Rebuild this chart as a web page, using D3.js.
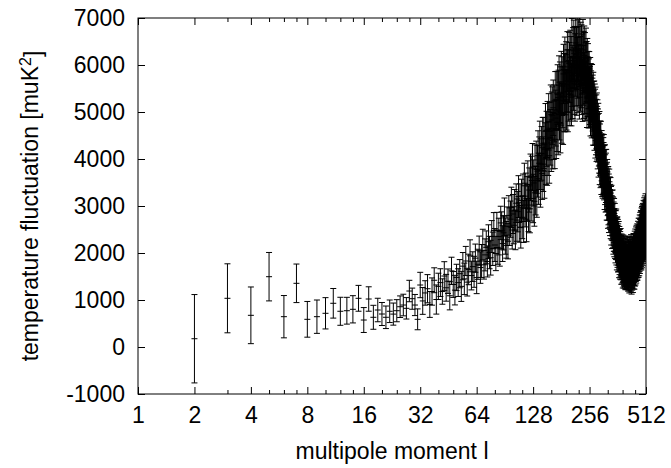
<!DOCTYPE html>
<html>
<head>
<meta charset="utf-8">
<script src="https://cdn.jsdelivr.net/npm/d3@7"></script>
<style>
  body { margin: 0; background: #fff; }
  svg text { font-family: "Liberation Sans", Arial, sans-serif; fill: #000; }
</style>
</head>
<body>
<script>
    //multipole moments start at l = 2, one point per l
    var firstL = 2;

    //l = 2 .. 31
    var powerLow = [176, 1036, 674, 1496, 645, 1355, 589, 645, 717, 930,
                    760, 772, 802, 1036, 574, 1021, 632, 787, 702, 632,
                    760, 700, 772, 857, 893, 823, 1191, 1028, 893, 589];
    var sigmaLow = [940, 734, 603, 515, 450, 410, 380, 355, 333, 315,
                    298, 285, 290, 275, 265, 260, 255, 250, 245, 240,
                    240, 235, 235, 230, 230, 228, 228, 225, 225, 222];

    //l = 32 .. 512
    var powerHigh = [
        1319, 980, 1150, 1240, 905, 1180, 1420, 1010, 1290, 1370,
        1180, 1510, 1260, 1400, 1090, 1620, 1330, 1210, 1480, 1370,
        1560, 1290, 1720, 1450, 1830, 1380, 1650, 1940, 1520, 1710,
        1600, 1890, 1480, 1760, 2050, 1690, 1830, 2180, 1750, 1960,
        2120, 1820, 2240, 2010, 1900, 2350, 2090, 2480, 2170, 1990,
        2490, 2120, 2350, 2090, 2640, 2480, 2200, 2430, 2770, 2360,
        2280, 2570, 2250, 2800, 2560, 2720, 2970, 2490, 2830, 2590,
        2910, 2490, 3060, 2700, 2880, 3200, 2650, 3010, 2540, 3120,
        2760, 3210, 2670, 3430, 3020, 3210, 2700, 3150, 3460, 2940,
        3340, 2940, 3610, 3160, 3540, 3830, 3160, 3490, 3100, 3790,
        3330, 3840, 3270, 3740, 4070, 3580, 3910, 4280, 3530, 3890,
        4120, 3690, 4320, 3890, 4340, 3740, 4210, 4590, 4030, 4430,
        4020, 4630, 4220, 4790, 4070, 4590, 4460, 5000, 4340, 4830,
        4920, 4390, 5090, 4610, 4970, 4420, 5250, 4870, 4640, 5250,
        4780, 5370, 4700, 5250, 5570, 5020, 5420, 4760, 5340, 5640,
        4970, 5550, 5320, 4950, 5810, 5240, 5600, 5960, 5230, 5580,
        5840, 5260, 5660, 6070, 5230, 5660, 5450, 6040, 5840, 5370,
        6090, 5500, 5960, 5360, 6320, 5770, 5520, 6150, 5700, 6300,
        5600, 6160, 5450, 6000, 6470, 5770, 6140, 5580, 6340, 5940,
        5640, 6310, 5780, 6180, 5510, 6430, 5960, 5680, 6260, 5750,
        6210, 5600, 6020, 5460, 6320, 5780, 6060, 5510, 6200, 5620,
        6050, 5440, 5830, 6150, 5470, 5860, 5300, 5950, 5540, 5830,
        5680, 5290, 5510, 5680, 5290, 5350, 5560, 5110, 5420, 5280,
        5400, 5050, 5420, 5110, 5190, 4880, 5240, 5060, 4870, 5060,
        4770, 5020, 4890, 4600, 4960, 4680, 4790, 4510, 4820, 4550,
        4700, 4370, 4500, 4630, 4190, 4410, 4250, 4440, 4010, 4200,
        4250, 3940, 4260, 3980, 3790, 4070, 3960, 3740, 4000, 3710,
        3750, 3930, 3810, 3990, 3650, 3750, 3450, 3790, 3560, 3680,
        3380, 3600, 3690, 3390, 3220, 3420, 3490, 3210, 3300, 3020,
        3330, 3100, 3190, 2940, 3290, 3030, 3120, 2860, 2980, 3110,
        2790, 2940, 2660, 2960, 2750, 2850, 2570, 2730, 2860, 2580,
        2730, 2450, 2620, 2490, 2690, 2380, 2490, 2590, 2340, 2460,
        2250, 2450, 2300, 2480, 2190, 2310, 2090, 2310, 2340, 2140,
        2280, 2020, 2180, 2040, 2250, 2050, 1900, 2150, 1970, 2080,
        1870, 2040, 1920, 2100, 1840, 1940, 1750, 2000, 1860, 1930,
        1760, 1980, 1790, 1680, 1900, 1790, 1960, 1690, 1830, 1720,
        1870, 1650, 1810, 1950, 1700, 1620, 1840, 1900, 1740, 1660,
        1820, 1620, 1910, 1710, 1780, 1950, 1650, 1740, 1870, 1600,
        1700, 1880, 1620, 1760, 1930, 1580, 1810, 1690, 1900, 1640,
        1750, 1860, 1600, 1790, 1950, 1670, 1820, 1560, 1740, 1890,
        1650, 1810, 1920, 1700, 1590, 1860, 1770, 1980, 1680, 1830,
        1750, 1940, 1690, 1880, 2010, 1760, 1850, 2050, 1790, 1920,
        1860, 2080, 1820, 1970, 2110, 1880, 2020, 1930, 2150, 1900,
        2060, 1950, 2190, 2010, 2120, 1970, 2240, 2080, 2160, 2020,
        2250, 2110, 2300, 2060, 2210, 2350, 2140, 2280, 2190, 2400,
        2230, 2360, 2150, 2440, 2290, 2380, 2210, 2490, 2330, 2420,
        2270, 2530, 2390, 2460, 2310, 2580, 2420, 2500, 2360, 2620,
        2450, 2540, 2390, 2670, 2480, 2560, 2420, 2700, 2510, 2590, 2470];

    var sigmaHigh = [
        270, 285, 260, 300, 275, 290, 265, 310, 280, 295, 270, 305, 285, 260, 300, 290, 275, 315, 280, 295,
        300, 320, 290, 335, 310, 295, 325, 340, 305, 315, 330, 300, 345, 320, 310, 335, 350, 325, 305, 340,
        350, 330, 360, 345, 370, 340, 355, 380, 350, 365, 375, 360, 390, 370, 355, 395, 380, 365, 400, 385,
        390, 410, 375, 420, 400, 385, 430, 405, 415, 395, 440, 420, 410, 450, 430, 445, 420, 460, 435, 450,
        455, 470, 445, 480, 465, 490, 460, 475, 500, 485, 470, 510, 495, 480, 520, 500, 515, 490, 530, 510,
        520, 540, 510, 550, 530, 545, 560, 525, 555, 540, 570, 550, 565, 580, 545, 575, 560, 590, 570, 585,
        580, 595, 570, 600, 585, 610, 590, 575, 605, 595, 615, 600, 590, 620, 605, 625, 610, 595, 630, 615,
        620, 635, 610, 640, 625, 615, 645, 630, 620, 650, 635, 625, 655, 640, 630, 660, 645, 635, 650, 640,
        655, 645, 660, 640, 650, 665, 645, 655, 640, 660, 650, 665, 645, 655, 670, 650, 660, 645, 665, 655,
        650, 660, 645, 665, 655, 640, 660, 650, 670, 645, 655, 665, 650, 640, 660, 655, 645, 665, 650, 660,
        645, 655, 640, 660, 650, 635, 655, 645, 630, 650, 640, 625, 645, 635, 620, 640, 630, 615, 635, 625,
        610, 630, 620, 605, 625, 615, 600, 620, 610, 595, 615, 600, 590, 610, 595, 585, 605, 590, 580, 600,
        585, 575, 595, 580, 570, 590, 575, 565, 585, 570, 560, 580, 565, 555, 575, 560, 550, 570, 555, 545,
        560, 550, 540, 555, 545, 535, 550, 540, 530, 545, 535, 525, 540, 530, 520, 535, 525, 515, 530, 520,
        510, 525, 515, 505, 520, 510, 500, 515, 505, 495, 510, 500, 490, 505, 495, 485, 500, 490, 480, 495,
        485, 475, 490, 480, 470, 485, 475, 465, 480, 470, 460, 475, 465, 455, 470, 460, 450, 465, 455, 445,
        460, 450, 440, 455, 445, 435, 450, 440, 430, 445, 435, 425, 440, 430, 420, 435, 425, 415, 430, 420,
        425, 415, 430, 420, 410, 425, 415, 405, 420, 410, 420, 405, 415, 425, 410, 400, 420, 410, 405, 415,
        410, 400, 415, 405, 420, 400, 410, 415, 405, 420, 410, 400, 415, 425, 405, 410, 420, 400, 415, 410,
        420, 410, 425, 405, 415, 430, 410, 420, 435, 415, 425, 410, 430, 420, 440, 415, 425, 435, 420, 430,
        440, 425, 435, 445, 430, 440, 450, 435, 445, 455, 440, 450, 460, 445, 455, 465, 450, 460, 470, 455,
        465, 475, 460, 470, 480, 465, 475, 485, 470, 480, 490, 475, 485, 495, 480, 490, 500, 485, 495, 505,
        490, 500, 510, 495, 505, 515, 500, 510, 520, 505, 515, 525, 510, 520, 530, 515, 525, 535, 520, 530,
        540, 525, 535, 545, 530, 540, 550, 535, 545, 555, 540, 550, 560, 545, 555, 565, 550, 560, 570, 555, 565];

    var xTicks = [1, 2, 4, 8, 16, 32, 64, 128, 256, 512];
    var xMinorTicks = [3, 5, 6, 7, 10, 12, 14, 20, 24, 28, 40, 48, 56,
                       80, 96, 112, 160, 192, 224, 320, 384, 448];
    var yTicks = [-1000, 0, 1000, 2000, 3000, 4000, 5000, 6000, 7000];

    window.onload = setChart();

    function setChart(){

        var width = 671,
            height = 468;
        var margin = {top: 18, right: 25, bottom: 74, left: 138};
        var w = width - margin.left - margin.right,
            h = height - margin.top - margin.bottom;

        var power = powerLow.concat(powerHigh),
            sigma = sigmaLow.concat(sigmaHigh);
        var n = Math.min(power.length, sigma.length);
        var data = [];
        for (var i = 0; i < n; i++){
            data.push({l: firstL + i, v: power[i], e: sigma[i]});
        }

        var svg = d3.select("body")
            .append("svg")
            .attr("width", width)
            .attr("height", height);

        var g = svg.append("g")
            .attr("transform", "translate(" + margin.left + "," + margin.top + ")");

        var x = d3.scaleLog().base(2)
            .domain([1, 512])
            .range([0, w]);

        var y = d3.scaleLinear()
            .domain([-1000, 7000])
            .range([h, 0]);

        g.append("clipPath")
            .attr("id", "plotclip")
            .append("rect")
            .attr("width", w)
            .attr("height", h);

        //error bars
        var bars = g.append("g")
            .attr("clip-path", "url(#plotclip)")
            .attr("stroke", "#000")
            .attr("stroke-width", 1)
            .attr("fill", "none");

        var cap = 3, mark = 3;
        var d = "";
        data.forEach(function(p){
            var px = x(p.l),
                y0 = y(p.v - p.e),
                y1 = y(p.v + p.e),
                pv = y(p.v);
            d += "M" + px + "," + y0 + "V" + y1;
            d += "M" + (px - cap) + "," + y0 + "H" + (px + cap);
            d += "M" + (px - cap) + "," + y1 + "H" + (px + cap);
            d += "M" + (px - mark) + "," + pv + "H" + (px + mark);
        });
        bars.append("path").attr("d", d);

        //axes, ticks pointing inward like gnuplot
        var fmt = function(v){ return v; };

        g.append("g")
            .attr("transform", "translate(0," + h + ")")
            .call(d3.axisBottom(x).tickValues(xTicks).tickFormat(fmt).tickSize(-7).tickPadding(13));
        g.append("g")
            .attr("transform", "translate(0," + h + ")")
            .call(d3.axisBottom(x).tickValues(xMinorTicks).tickFormat("").tickSize(-4));
        g.append("g")
            .call(d3.axisTop(x).tickValues(xTicks).tickFormat("").tickSize(-7));
        g.append("g")
            .call(d3.axisTop(x).tickValues(xMinorTicks).tickFormat("").tickSize(-4));

        g.append("g")
            .call(d3.axisLeft(y).tickValues(yTicks).tickFormat(fmt).tickSize(-7).tickPadding(13));
        g.append("g")
            .attr("transform", "translate(" + w + ",0)")
            .call(d3.axisRight(y).tickValues(yTicks).tickFormat("").tickSize(-7));

        g.selectAll(".domain").remove();
        g.selectAll(".tick line").attr("stroke", "#000");
        g.selectAll(".tick text")
            .style("font-size", "23px")
            .style("font-family", "'Liberation Sans', Arial, sans-serif");

        //frame
        g.append("rect")
            .attr("width", w)
            .attr("height", h)
            .attr("fill", "none")
            .attr("stroke", "#000")
            .attr("stroke-width", 1);

        //axis titles
        svg.append("text")
            .attr("x", margin.left + w / 2)
            .attr("y", 459)
            .attr("text-anchor", "middle")
            .style("font-size", "23px")
            .text("multipole moment l");

        var yl = svg.append("text")
            .attr("transform", "translate(38," + (margin.top + h / 2) + ") rotate(-90)")
            .attr("text-anchor", "middle")
            .style("font-size", "23px");
        yl.append("tspan").text("temperature fluctuation [muK");
        yl.append("tspan").attr("dy", "-0.45em").style("font-size", "16px").text("2");
        yl.append("tspan").attr("dy", "0.45em").text("]");

    } //end of setChart()
</script>
</body>
</html>
